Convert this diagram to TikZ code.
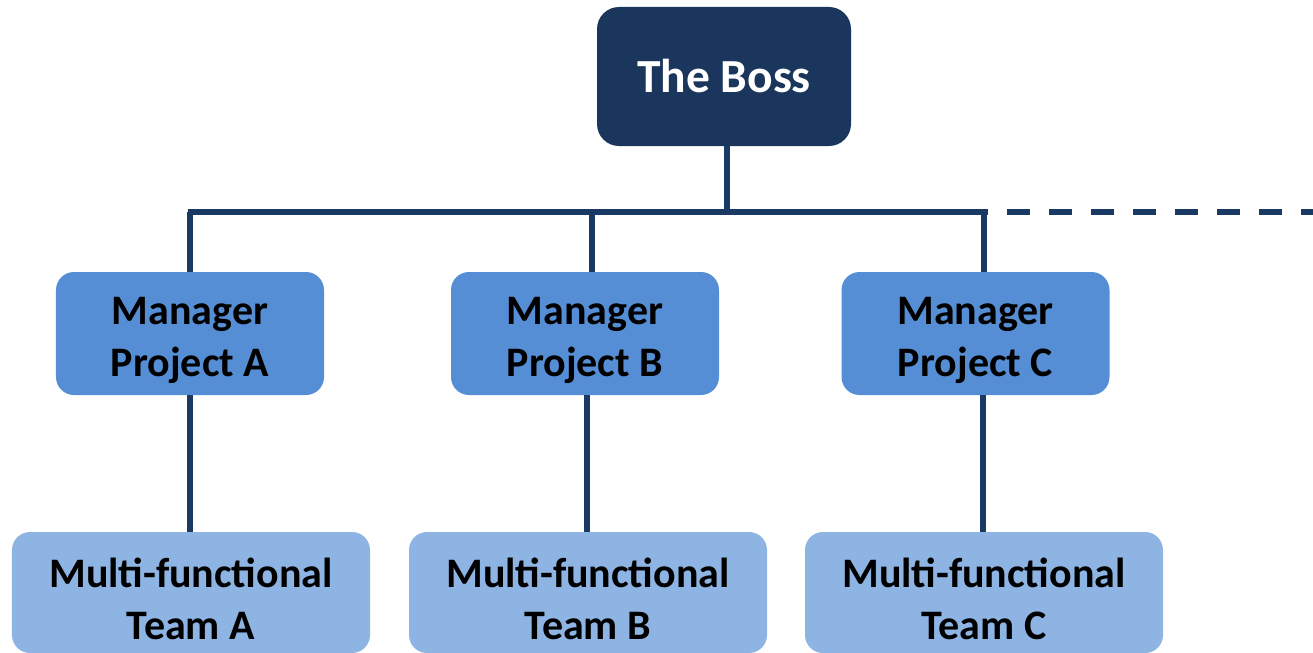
\documentclass[tikz,border=0pt]{standalone}
\usepackage{fontspec}
\setmainfont{Carlito}
\definecolor{bossc}{HTML}{1B365D}
\definecolor{mgrc}{HTML}{558ED5}
\definecolor{teamc}{HTML}{8EB4E3}
\definecolor{linec}{HTML}{1A3A63}
\newcommand{\tpush}{\rule{0pt}{42bp}}
\begin{document}
\begin{tikzpicture}[x=1bp,y=-1bp,
  box/.style={rounded corners=18bp, align=center, inner sep=0pt, font=\fontsize{42bp}{52bp}\selectfont\bfseries},
  bossbox/.style={box, fill=bossc, text=white, minimum width=254bp, minimum height=139bp, rounded corners=22bp, font=\fontsize{47.5bp}{56bp}\selectfont\bfseries},
  mgrbox/.style={box, fill=mgrc, minimum width=268bp, minimum height=123bp},
  teambox/.style={box, fill=teamc, minimum width=358bp, minimum height=121bp},
  conn/.style={draw=linec, line width=5.5bp},
]
\useasboundingbox (0,0) rectangle (1313,653);
\node[bossbox] (boss) at (724,76.5) {The Boss};
\node[mgrbox] (ma) at (190,333.5) {\tpush Manager\\Project A};
\node[mgrbox] (mb) at (585,333.5) {\tpush Manager\\Project B};
\node[mgrbox] (mc) at (975.5,333.5) {\tpush Manager\\Project C};
\node[teambox] (ta) at (191,592.5) {\tpush Multi-functional\\Team A};
\node[teambox] (tb) at (588,592.5) {\tpush Multi-functional\\Team B};
\node[teambox] (tc) at (984,592.5) {\tpush Multi-functional\\Team C};
\coordinate (j) at (727,212);
\coordinate (hl) at (188,212);
\coordinate (hr) at (987,212);
\coordinate (hend) at (1313,212);
\draw[conn] (boss.south -| j) -- (j);
\draw[conn] (hl) -- (hr);
\draw[conn, dash pattern=on 23bp off 19bp, dash phase=-20bp] (hr) -- (hend);
\draw[conn] (ma.north) -- (ma.north |- j);
\draw[conn] ([xshift=7bp]mb.north) -- ([xshift=7bp]mb.north |- j);
\draw[conn] ([xshift=8.5bp]mc.north) -- ([xshift=8.5bp]mc.north |- j);
\draw[conn] (ma.south) -- (ma.south |- ta.north);
\draw[conn] ([xshift=2bp]mb.south) -- ([xshift=2bp]mb.south |- tb.north);
\draw[conn] ([xshift=7.5bp]mc.south) -- ([xshift=7.5bp]mc.south |- tc.north);
\end{tikzpicture}
\end{document}
